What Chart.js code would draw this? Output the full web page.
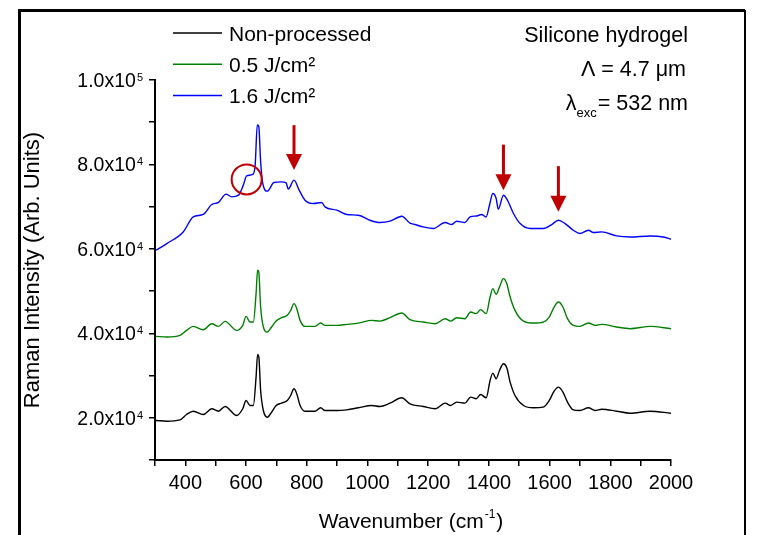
<!DOCTYPE html>
<html>
<head>
<meta charset="utf-8">
<script src="https://cdn.jsdelivr.net/npm/chart.js@4"></script>
<style>
  html, body { margin: 0; padding: 0; background: #fff; }
</style>
</head>
<body>
<canvas id="grafico" width="771" height="535"></canvas>
<script>
// Datos (número de onda en cm-1, intensidad en u.a.)
const ondaBase = [303, 339, 382, 404, 426, 459, 487, 509, 531, 569, 589, 600, 613, 624, 633, 638, 642, 648, 657, 670,
  684, 699, 717, 736, 747, 758, 767, 778, 794, 827, 846, 860, 899, 932, 970, 1014, 1041, 1074, 1113, 1140,
  1184, 1223, 1256, 1274, 1294, 1321, 1340, 1358, 1373, 1391, 1404, 1413, 1424, 1435, 1448, 1459, 1470, 1486, 1514, 1547,
  1579, 1599, 1615, 1629, 1644, 1659, 1678, 1700, 1728, 1750, 1772, 1821, 1865, 1931, 2000];

const sinProcesar = [19350, 19190, 19510, 20780, 21560, 20780, 22130, 21560, 22670, 20540, 22130, 24100, 22910, 22910, 29630, 35010, 34500, 26470, 21720, 20140,
  21320, 22910, 23460, 24100, 25280, 26870, 25680, 22910, 21560, 21560, 22360, 21720, 21720, 21880, 22360, 22910, 22670, 23460, 24730, 23300,
  22670, 22130, 23460, 22910, 23700, 23460, 24880, 24500, 25520, 24730, 28840, 30580, 29240, 31210, 32800, 31850, 28440, 25280, 22910, 22360,
  22510, 24100, 26310, 27260, 26080, 23700, 21880, 21720, 22360, 21720, 22030, 21560, 21080, 21560, 21080];

const fluencia05 = [39280, 39120, 39510, 40700, 41650, 40860, 42270, 41650, 42830, 40700, 41890, 44020, 42670, 42670, 49400, 54930, 54500, 46230, 41500, 40300,
  41500, 42900, 43700, 44260, 45440, 47030, 45850, 43070, 41650, 41650, 42430, 41890, 41890, 42120, 42430, 43070, 42900, 43700, 44810, 43230,
  42670, 42270, 43470, 42900, 43700, 43470, 45040, 44660, 45610, 44660, 48600, 50590, 49240, 50980, 52960, 51780, 48600, 45440, 42900, 42430,
  42670, 43860, 46230, 47420, 46230, 43470, 41890, 41650, 42430, 41890, 42120, 41500, 41100, 41650, 41100];

const ondaAzul = [303, 339, 393, 426, 459, 487, 509, 534, 553, 575, 591, 602, 622, 630, 637, 642, 648, 655, 670, 692,
  717, 732, 739, 758, 775, 794, 822, 849, 860, 899, 932, 970, 1008, 1041, 1074, 1113, 1140, 1157, 1184, 1217,
  1256, 1278, 1294, 1321, 1338, 1360, 1376, 1391, 1402, 1413, 1424, 1431, 1448, 1461, 1481, 1503, 1536, 1579, 1607, 1629,
  1651, 1678, 1700, 1728, 1744, 1772, 1821, 1865, 1931, 1975, 2000];

const fluencia16 = [59680, 61260, 64020, 67570, 68150, 70520, 71000, 72960, 72320, 72720, 75100, 77300, 77630, 79840, 89330, 89000, 80620, 75500, 73670, 75730,
  75880, 75640, 74150, 76280, 73910, 71540, 70750, 70990, 69950, 69170, 68150, 67980, 66790, 66240, 66560, 67740, 66100, 65770, 65200, 64820,
  66240, 65770, 66560, 66240, 67570, 67800, 68150, 67570, 70350, 73120, 71940, 69400, 72720, 71540, 68380, 66000, 64820, 64820, 65770, 66790,
  66000, 64420, 63630, 64420, 63870, 64020, 63070, 62830, 63070, 62830, 62290];

const etiquetas = ["Non-processed", "0.5 J/cm²", "1.6 J/cm²"];
const colores = ["#000000", "#008000", "#0000ff"];

// anotaciones en unidades de datos: [onda, intensidad arriba, intensidad punta]
const flechas = [[758, 89300, 78700], [1448, 84700, 73900], [1629, 79600, 68800]];
const circulo = [602, 76450];

const fuente = '"Liberation Sans", Arial, sans-serif';

function puntos(xs, ys) {
  return xs.map((x, i) => ({ x: x, y: ys[i] }));
}

// Dibuja etiquetas con exponentes, títulos, leyenda y anotaciones
const extras = {
  id: "extras",
  afterDraw(chart) {
    const ctx = chart.ctx;
    const ejeX = chart.scales.x;
    const ejeY = chart.scales.y;
    ctx.save();
    ctx.fillStyle = "#000";
    ctx.textBaseline = "alphabetic";

    // etiquetas eje Y
    ejeY.ticks.forEach(t => {
      if (t.value % 20000 !== 0) return;
      const py = ejeY.getPixelForValue(t.value);
      const exp = Math.floor(Math.log10(t.value));
      const mant = (t.value / Math.pow(10, exp)).toFixed(1);
      ctx.textAlign = "right";
      ctx.font = "11px " + fuente;
      ctx.fillText(String(exp), 143, py + 1);
      const we = ctx.measureText(String(exp)).width;
      ctx.font = "19.5px " + fuente;
      ctx.fillText(mant + "x10", 143 - we - 1, py + 7);
    });

    // título eje X
    ctx.textAlign = "left";
    ctx.font = "21px " + fuente;
    const w1 = ctx.measureText("Wavenumber (cm").width;
    const w3 = ctx.measureText(")").width;
    ctx.font = "12px " + fuente;
    const w2 = ctx.measureText("-1").width;
    let x0 = 411 - (w1 + w2 + w3 + 2) / 2;
    ctx.font = "21px " + fuente;
    ctx.fillText("Wavenumber (cm", x0, 528);
    ctx.font = "12px " + fuente;
    ctx.fillText("-1", x0 + w1 + 1, 518);
    ctx.font = "21px " + fuente;
    ctx.fillText(")", x0 + w1 + w2 + 2, 528);

    // título eje Y
    ctx.save();
    ctx.translate(39, 270);
    ctx.rotate(-Math.PI / 2);
    ctx.textAlign = "center";
    ctx.font = "22px " + fuente;
    ctx.fillText("Raman Intensity (Arb. Units)", 0, 0);
    ctx.restore();

    // leyenda
    chart.data.datasets.forEach((ds, i) => {
      const ly = 33 + i * 31.3;
      ctx.strokeStyle = ds.borderColor;
      ctx.lineWidth = 1.5;
      ctx.beginPath();
      ctx.moveTo(173, ly);
      ctx.lineTo(222, ly);
      ctx.stroke();
      ctx.font = "21px " + fuente;
      ctx.textAlign = "left";
      ctx.fillText(ds.label, 229, ly + 7.5);
    });

    // textos de la muestra
    ctx.textAlign = "right";
    ctx.font = "21.5px " + fuente;
    ctx.fillText("Silicone hydrogel", 688, 41.5);
    ctx.fillText("Λ = 4.7 μm", 686, 76);
    const wEq = ctx.measureText("= 532 nm").width;
    ctx.fillText("= 532 nm", 688, 110);
    ctx.font = "13px " + fuente;
    const wSub = ctx.measureText("exc").width;
    ctx.fillText("exc", 688 - wEq - 1, 117);
    ctx.font = "21.5px " + fuente;
    ctx.fillText("λ", 688 - wEq - wSub - 1, 110);

    // flechas rojas
    ctx.strokeStyle = "#c00000";
    ctx.fillStyle = "#c00000";
    flechas.forEach(f => {
      const px = ejeX.getPixelForValue(f[0]);
      const top = ejeY.getPixelForValue(f[1]);
      const tip = ejeY.getPixelForValue(f[2]);
      ctx.lineWidth = 3;
      ctx.beginPath();
      ctx.moveTo(px, top);
      ctx.lineTo(px, tip - 14);
      ctx.stroke();
      ctx.beginPath();
      ctx.moveTo(px - 8, tip - 16);
      ctx.lineTo(px + 8, tip - 16);
      ctx.lineTo(px, tip);
      ctx.closePath();
      ctx.fill();
    });

    // círculo
    ctx.lineWidth = 2;
    ctx.beginPath();
    ctx.arc(ejeX.getPixelForValue(circulo[0]), ejeY.getPixelForValue(circulo[1]), 15, 0, Math.PI * 2);
    ctx.stroke();

    // marco exterior
    ctx.strokeStyle = "#000";
    ctx.lineWidth = 3;
    ctx.beginPath();
    ctx.moveTo(19.5, 535);
    ctx.lineTo(19.5, 10.5);
    ctx.lineTo(745, 10.5);
    ctx.stroke();
    ctx.lineWidth = 2;
    ctx.beginPath();
    ctx.moveTo(745, 10);
    ctx.lineTo(745, 535);
    ctx.stroke();

    ctx.restore();
  }
};

new Chart(document.getElementById("grafico"), {
  type: "line",
  data: {
    datasets: [
      { label: etiquetas[0], data: puntos(ondaBase, sinProcesar), borderColor: colores[0] },
      { label: etiquetas[1], data: puntos(ondaBase, fluencia05), borderColor: colores[1] },
      { label: etiquetas[2], data: puntos(ondaAzul, fluencia16), borderColor: colores[2] }
    ]
  },
  options: {
    responsive: false,
    animation: false,
    devicePixelRatio: 1,
    layout: { padding: { top: 80, right: 100, left: 0, bottom: 0 } },
    elements: {
      point: { radius: 0 },
      line: { borderWidth: 1.4, cubicInterpolationMode: "monotone", fill: false }
    },
    plugins: {
      legend: { display: false },
      tooltip: { enabled: false }
    },
    scales: {
      x: {
        type: "linear",
        min: 300,
        max: 2000,
        afterFit: s => { s.height = 75; },
        ticks: {
          stepSize: 100,
          autoSkip: false,
          maxRotation: 0,
          padding: 5,
          color: "#000",
          font: { family: fuente, size: 20 },
          callback: v => (v % 200 === 0 ? v : "")
        },
        grid: { drawOnChartArea: false, drawTicks: true, tickLength: 6, color: "#000", lineWidth: 1.5 },
        border: { display: true, color: "#000", width: 2 }
      },
      y: {
        type: "linear",
        min: 10000,
        max: 100000,
        afterFit: s => { s.width = 155; },
        ticks: {
          stepSize: 10000,
          autoSkip: false,
          color: "#000",
          callback: () => ""
        },
        grid: { drawOnChartArea: false, drawTicks: true, tickLength: 6, color: "#000", lineWidth: 1.5 },
        border: { display: true, color: "#000", width: 2 }
      }
    }
  },
  plugins: [extras]
});
</script>
</body>
</html>
